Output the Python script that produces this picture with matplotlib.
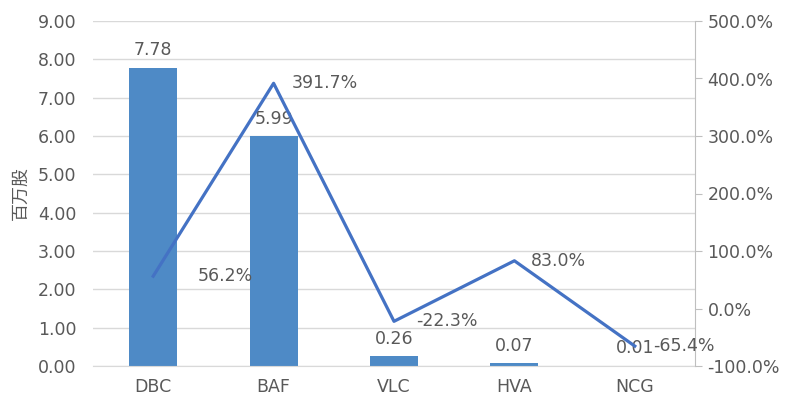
import matplotlib
matplotlib.use("Agg")
import matplotlib.pyplot as plt
import numpy as np
from matplotlib.ticker import FuncFormatter, MultipleLocator

plt.rcParams['font.family'] = ['DejaVu Sans', 'Noto Sans CJK SC']

# data
categories = ['DBC', 'BAF', 'VLC', 'HVA', 'NCG']
volume     = [7.78, 5.99, 0.26, 0.07, 0.01]        # 百万股
change_pct = [56.2, 391.7, -22.3, 83.0, -65.4]     # %
pct_label_dx = [32, 13, 16, 12, 13]                # label offsets (points)

bar_color  = '#4E8AC6'
line_color = '#4472C4'
text_color = '#595959'
grid_color = '#D9D9D9'
fs = 12.5

fig = plt.figure(figsize=(7.85, 4.0), dpi=100)
ax = fig.add_axes([93/785, 34/400, (695-93)/785, (366-21)/400])
x = np.arange(len(categories))

ax.bar(x, volume, width=0.4, color=bar_color, zorder=2)
ax.set_xlim(-0.5, len(categories) - 0.5)
ax.set_ylim(0, 9)
ax.yaxis.set_major_locator(MultipleLocator(1))
ax.yaxis.set_major_formatter(FuncFormatter(lambda v, p: f'{v:.2f}'))
ax.grid(axis='y', color=grid_color, linewidth=1, zorder=0)
ax.set_axisbelow(True)
for s in ['top', 'left', 'right']:
    ax.spines[s].set_visible(False)
ax.spines['bottom'].set_color(grid_color)
ax.tick_params(axis='y', length=0, labelsize=fs, labelcolor=text_color, pad=12)
ax.tick_params(axis='x', length=0, labelsize=fs, labelcolor=text_color, pad=9)
ax.set_xticks(x)
ax.set_xticklabels(categories)
ax.set_ylabel('百万股', fontsize=13, color=text_color, labelpad=6,
              family=['Noto Sans CJK SC', 'DejaVu Sans'])

for xi, v in zip(x, volume):
    ax.annotate(f'{v:.2f}', (xi, v), xytext=(0, 6), textcoords='offset points',
                ha='center', va='bottom', fontsize=fs, color=text_color, zorder=5)

ax2 = ax.twinx()
ax2.plot(x, change_pct, color=line_color, linewidth=2.3, zorder=3)
ax2.set_ylim(-100, 500)
ax2.yaxis.set_major_locator(MultipleLocator(100))
ax2.yaxis.set_major_formatter(FuncFormatter(lambda v, p: f'{v:.1f}%'))
for s in ['top', 'left', 'bottom']:
    ax2.spines[s].set_visible(False)
ax2.spines['right'].set_color('#BFBFBF')
ax2.tick_params(axis='y', length=5, color='#BFBFBF', labelsize=fs,
                labelcolor=text_color, pad=4)

for xi, v, dx in zip(x, change_pct, pct_label_dx):
    ax2.annotate(f'{v:.1f}%', (xi, v), xytext=(dx, 0), textcoords='offset points',
                 ha='left', va='center', fontsize=fs, color=text_color, zorder=5)

fig.savefig('out.png', dpi=100)
